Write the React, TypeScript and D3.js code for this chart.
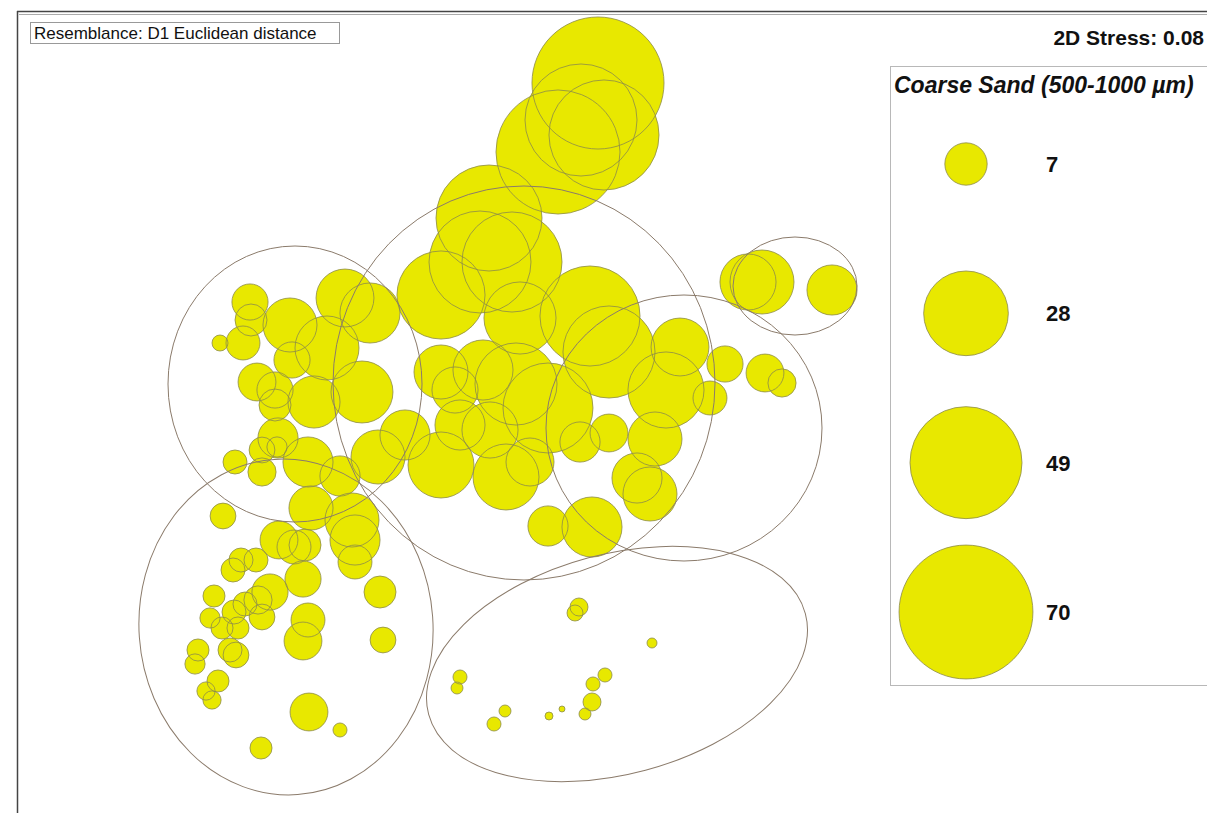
import React from "react";
import * as d3 from "d3";

// nMDS ordination of samples, bubbles sized by coarse sand content (%)
const mds1 = [
  0.98, 0.81, 1.04, 0.58, -0.11,
  -0.2, 0.12, -0.59, 0.9, 1.09, 0.2, 1.8, 1.66, 2.25, 2.1, 0.48, 0.16, -0.17, -0.59, -0.45,
  -0.59, 0.06, 1.55, 1.37, 1.5, 0.48, 0.92, -0.95, 0.8, 1.09, -0.4, -0.1, 0.3,
  2.48, 2.62, 3.32, 2.65, 2.82,
  -2.5, -2.49, -2.1, -2.8, -2.57, -2.43, -2.25, -1.86, -1.38, -1.73, -1.55, -1.3, -2.08, -2.25,
  -2.65, -2.38, -2.23, -1.92, -2.38, -2.22, -1.22, -1.6,
  -2.77, -1.89, -1.48, -1.45, -1.45, -2.21, -2.06, -1.95, -1.97, -1.2, -1.17, -2.3, -2.59, -2.44,
  -2.67, -2.86, -2.9, -2.78, -2.62, -2.66, -2.55, -2.42, -2.38, -2.64, -3.02, -3.05, -2.82, -2.94,
  -2.88, -1.92, -1.97, -1.91, -1.6, -2.39, -2.7,
  0.79, 0.75, 1.52, -0.4, -0.43, 1.05, 0.93, 0.92, 0.85, 0.05, -0.06, 0.49, 0.62,
];
const mds2 = [
  3.17, 2.8, 2.65, 2.48, 1.82,
  1.38, 1.38, 1.05, 0.84, 0.48, 0.82, 0.53, 0.1, 0.36, 0.02, -0.08, 0.16, 0.3, 0.28, 0.1,
  -0.65, -0.77, -0.39, -0.78, -0.94, -1.26, -1.27, -0.35, -0.42, -0.33, -0.25, -0.3, -0.62,
  1.18, 1.18, 1.1, 0.27, 0.17,
  0.98, 0.8, 0.75, 0.57, 0.57, 0.18, 0.1, -0.02, 0.08, 0.52, 1.02, 0.87, 0.4, -0.05,
  -0.62, -0.5, -0.47, -0.62, -0.72, -0.38, -0.57, -0.76,
  -1.16, -1.08, -1.2, -1.4, -1.62, -1.4, -1.47, -1.45, -1.79, -1.92, -2.4, -1.92, -1.6, -1.6,
  -1.7, -1.96, -2.18, -2.28, -2.28, -2.12, -2.04, -2.0, -2.17, -2.55, -2.5, -2.64, -2.81, -2.91,
  -3.0, -2.2, -2.41, -3.12, -3.3, -3.48, -2.5,
  -2.07, -2.13, -2.43, -2.77, -2.88, -2.75, -2.84, -3.02, -3.14, -3.11, -3.24, -3.16, -3.09,
];
const coarseSand = [
  68.1, 49.0, 47.3, 60.1, 43.9,
  40.6, 39.1, 30.3, 39.1, 33.1, 20.3, 13.1, 22.6, 5.1, 4.5, 31.6, 26.3, 14.1, 11.4, 8.3,
  17.0, 17.0, 11.4, 9.8, 11.4, 6.3, 14.1, 9.8, 6.3, 5.6, 9.8, 12.3, 9.0,
  12.3, 16.0, 9.8, 5.6, 3.1,
  5.1, 4.0, 11.4, 1.0, 4.5, 5.6, 5.1, 10.6, 15.0, 16.0, 13.1, 14.1, 5.1, 4.0,
  2.25, 2.6, 1.6, 9.8, 3.1, 6.3, 11.4, 6.3,
  2.6, 7.6, 11.4, 9.8, 4.5, 5.6, 4.5, 4.0, 5.1, 4.0, 2.6, 5.1, 2.25, 2.25,
  2.25, 1.9, 1.6, 1.9, 1.9, 2.25, 2.25, 3.1, 2.6, 2.6, 1.9, 1.6, 1.9, 1.3,
  1.3, 4.5, 5.6, 5.6, 0.77, 1.9, 2.25,
  1.27, 1.0, 0.39, 0.77, 0.56, 0.77, 0.77, 1.27, 0.56, 0.56, 0.77, 0.25, 0.14,
];

// cluster outlines (centre, semi-axes in ordination units, tilt in degrees)
const groupCx = [-2.05, 0.24, 1.84, 2.95, -2.14, 1.17];
const groupCy = [0.16, 0.17, -0.28, 1.14, -2.27, -2.64];
const groupRx = [1.27, 1.91, 1.38, 0.62, 1.47, 1.95];
const groupRy = [1.38, 1.97, 1.33, 0.49, 1.68, 1.1];
const groupTilt = [0, 0, 0, 0, -4, -15];

const legendValues = [7, 28, 49, 70];
const legendLabels = ["7", "28", "49", "70"];

const FONT = "'Liberation Sans', Arial, Helvetica, sans-serif";
const FILL = "#e8e800";
const EDGE = "#8c8a4a";
const GROUP = "#8b7b6b";

export default function App() {
  const xScale = d3.scaleLinear().domain([-1, 1]).range([400, 600]);
  const yScale = d3.scaleLinear().domain([-1, 1]).range([500, 300]);
  const rScale = d3.scaleSqrt().domain([0, 70]).range([0, 8 * Math.sqrt(70)]);

  const points = coarseSand.map((v, i) => ({
    cx: xScale(mds1[i]),
    cy: yScale(mds2[i]),
    r: rScale(v),
  }));

  const groups = groupCx.map((c, i) => ({
    cx: xScale(c),
    cy: yScale(groupCy[i]),
    rx: xScale(groupRx[i]) - xScale(0),
    ry: yScale(0) - yScale(groupRy[i]),
    tilt: groupTilt[i],
  }));

  const legendY = d3.scalePoint<number>().domain(legendValues).range([164, 612]);

  return (
    <svg
      width={1207}
      height={813}
      style={{ position: "fixed", left: 0, top: 0, background: "#fff" }}
    >
      <rect x={0} y={0} width={1207} height={813} fill="#fff" />
      {/* outer frame */}
      <line x1={17} y1={11.5} x2={1207} y2={11.5} stroke="#444" strokeWidth={1.5} />
      <line x1={19} y1={14.5} x2={1207} y2={14.5} stroke="#aaa" strokeWidth={1} />
      <line x1={17.5} y1={11} x2={17.5} y2={813} stroke="#444" strokeWidth={1.5} />

      {/* bubble fills, then all outlines on top */}
      <g>
        {points.map((p, i) => (
          <circle key={"f" + i} cx={p.cx} cy={p.cy} r={p.r} fill={FILL} />
        ))}
      </g>
      <g>
        {points.map((p, i) => (
          <circle
            key={"o" + i}
            cx={p.cx}
            cy={p.cy}
            r={p.r}
            fill="none"
            stroke={EDGE}
            strokeWidth={0.8}
          />
        ))}
      </g>

      {/* cluster outlines */}
      <g fill="none" stroke={GROUP} strokeWidth={1}>
        {groups.map((g, i) => (
          <ellipse
            key={"g" + i}
            cx={g.cx}
            cy={g.cy}
            rx={g.rx}
            ry={g.ry}
            transform={`rotate(${g.tilt} ${g.cx} ${g.cy})`}
          />
        ))}
      </g>

      {/* resemblance label */}
      <rect x={30.5} y={22.5} width={309} height={21} fill="#fff" stroke="#999" strokeWidth={1} />
      <text x={34} y={38.5} fontFamily={FONT} fontSize={17} fill="#111">
        Resemblance: D1 Euclidean distance
      </text>

      <text
        x={1204}
        y={45}
        textAnchor="end"
        fontFamily={FONT}
        fontSize={21}
        fontWeight="bold"
        fill="#111"
      >
        2D Stress: 0.08
      </text>

      {/* legend */}
      <rect x={890.5} y={66.5} width={330} height={619} fill="#fff" stroke="#b8b8b8" strokeWidth={1} />
      <text
        x={894}
        y={93}
        fontFamily={FONT}
        fontSize={23}
        fontWeight="bold"
        fontStyle="italic"
        fill="#111"
      >
        Coarse Sand (500-1000 µm)
      </text>
      {legendValues.map((v, i) => (
        <g key={"l" + i}>
          <circle
            cx={966}
            cy={legendY(v)}
            r={rScale(v)}
            fill={FILL}
            stroke={EDGE}
            strokeWidth={0.8}
          />
          <text
            x={1046}
            y={(legendY(v) as number) + 8}
            fontFamily={FONT}
            fontSize={22}
            fontWeight="bold"
            fill="#111"
          >
            {legendLabels[i]}
          </text>
        </g>
      ))}
    </svg>
  );
}
